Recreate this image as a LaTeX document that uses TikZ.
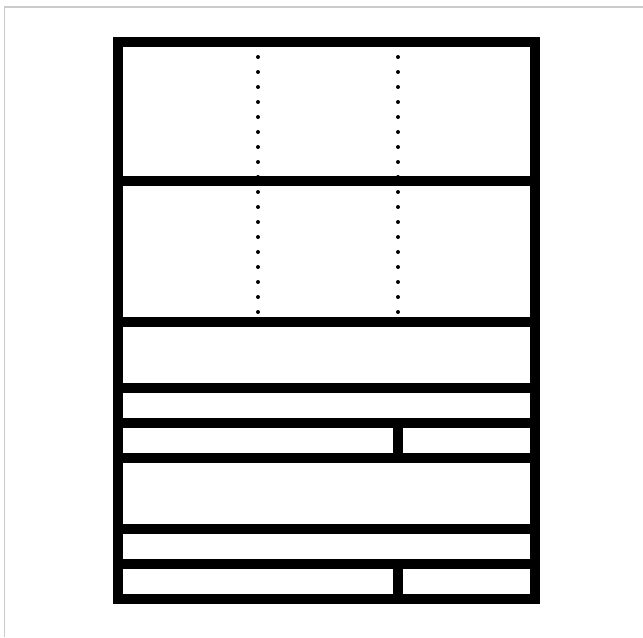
\documentclass[tikz,border=0pt]{standalone}
\begin{document}
\begin{tikzpicture}[x=0.75pt,y=-0.75pt,
  thick line/.style={line width=7.5pt},
  dotline/.style={line width=3pt,line cap=round,dash pattern=on 0pt off 11.25pt},
  frameline/.style={draw=black!20,line width=1.2pt}]
\useasboundingbox (0,0) rectangle (643,637);
\fill[white] (0,0) rectangle (643,637);
\draw[frameline] (4.5,637) -- (4.5,7) -- (643,7);
% dotted lines
\draw[dotline] (258,57) -- (258,312.5);
\draw[dotline] (398,57) -- (398,312.5);
% horizontal bars
\foreach \y in {181,321.7,387.7,422.5,458,529,564.3}
  \draw[thick line] (118,\y) -- (535,\y);
% vertical dividers
\draw[thick line] (398,422.5) -- (398,458);
\draw[thick line] (398,564.3) -- (398,599.3);
% outer frame
\draw[thick line] (118,42) rectangle (535,599.3);
\end{tikzpicture}
\end{document}
